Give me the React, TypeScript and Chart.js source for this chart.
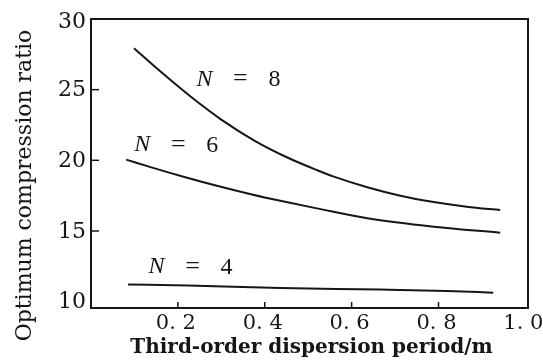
import React, { useEffect, useRef } from "react";
import { Chart, registerables } from "chart.js";

Chart.register(...registerables);

const xTickValues = [0.2, 0.4, 0.6, 0.8, 1.0];
const xTickLabels = ["0. 2", "0. 4", "0. 6", "0. 8", "1. 0"];
const yTickValues = [10, 15, 20, 25, 30];
const yTickLabels = ["10", "15", "20", "25", "30"];

const n8X = [0.099, 0.146, 0.192, 0.238, 0.299, 0.376, 0.452, 0.521, 0.559, 0.636, 0.712, 0.789, 0.865, 0.942];
const n8Y = [27.93, 26.65, 25.45, 24.3, 22.9, 21.4, 20.2, 19.3, 18.85, 18.1, 17.5, 17.05, 16.72, 16.48];

const n6X = [0.081, 0.139, 0.215, 0.292, 0.368, 0.444, 0.52, 0.636, 0.789, 0.942];
const n6Y = [20.05, 19.5, 18.82, 18.18, 17.6, 17.08, 16.6, 15.9, 15.3, 14.88];

const n4X = [0.085, 0.223, 0.437, 0.666, 0.819, 0.926];
const n4Y = [11.22, 11.15, 10.96, 10.86, 10.76, 10.63];

const curveLabels = ["8", "6", "4"];
const curveLabelX = [0.337, 0.194, 0.227];
const curveLabelY = [25.74, 21.08, 12.47];

const xTitle = "Third-order dispersion period/m";
const yTitle = "Optimum compression ratio";

const INK = "#161616";

const toPoints = (xs: number[], ys: number[]) => xs.map((v, i) => ({ x: v, y: ys[i] }));

const decorPlugin = {
  id: "decor",
  afterDraw(chart: any) {
    const { ctx, chartArea } = chart;
    const { left, right, top, bottom } = chartArea;
    const xs = chart.scales.x;
    const ys = chart.scales.y;
    ctx.save();
    ctx.strokeStyle = INK;
    ctx.fillStyle = INK;
    ctx.lineWidth = 2;
    ctx.strokeRect(left, top, right - left, bottom - top);

    // y ticks (inward) and labels
    ctx.lineWidth = 1.5;
    ctx.font = "22px 'DejaVu Serif'";
    ctx.textAlign = "right";
    ctx.textBaseline = "middle";
    yTickValues.forEach((v, i) => {
      const py = ys.getPixelForValue(v);
      if (i > 0 && i < yTickValues.length - 1) {
        ctx.beginPath();
        ctx.moveTo(left, py);
        ctx.lineTo(left + 8, py);
        ctx.stroke();
      }
      ctx.fillText(yTickLabels[i], left - 5, py + (i === yTickValues.length - 1 ? 3 : 1));
    });

    // x ticks (inward) and labels
    ctx.font = "21px 'DejaVu Serif'";
    ctx.textAlign = "center";
    ctx.textBaseline = "middle";
    xTickValues.forEach((v, i) => {
      const px = xs.getPixelForValue(v);
      if (i < xTickValues.length - 1) {
        ctx.beginPath();
        ctx.moveTo(px, bottom);
        ctx.lineTo(px, bottom - 6);
        ctx.stroke();
      }
      ctx.fillText(xTickLabels[i], px - 2, bottom + 16);
    });

    // axis titles
    ctx.font = "bold 20px 'DejaVu Serif'";
    ctx.textAlign = "center";
    ctx.fillText(xTitle, (left + right) / 2 + 2, bottom + 40);

    ctx.save();
    ctx.font = "22px 'DejaVu Serif'";
    ctx.translate(25, (top + bottom) / 2 + 22);
    ctx.rotate(-Math.PI / 2);
    ctx.fillText(yTitle, 0, 0);
    ctx.restore();

    // curve labels
    curveLabels.forEach((lab, i) => {
      const cx = xs.getPixelForValue(curveLabelX[i]);
      const cy = ys.getPixelForValue(curveLabelY[i]);
      ctx.textAlign = "center";
      ctx.textBaseline = "middle";
      ctx.font = "italic 24px 'Liberation Serif'";
      ctx.fillText("N", cx - 33, cy);
      ctx.font = "26px 'Liberation Serif'";
      ctx.fillText("=", cx + 3, cy);
      ctx.font = "24px 'Liberation Serif'";
      ctx.fillText(lab, cx + 37, cy + 1);
    });
    ctx.restore();
  },
};

export default function App() {
  const canvasRef = useRef<HTMLCanvasElement | null>(null);

  useEffect(() => {
    document.body.style.margin = "0";
    const canvas = canvasRef.current;
    if (!canvas) return;
    const lineStyle = {
      borderColor: INK,
      borderWidth: 2,
      pointRadius: 0,
      fill: false,
      cubicInterpolationMode: "monotone" as const,
    };
    const chart = new Chart(canvas, {
      type: "line",
      data: {
        datasets: [
          { label: "N = 8", data: toPoints(n8X, n8Y), ...lineStyle },
          { label: "N = 6", data: toPoints(n6X, n6Y), ...lineStyle },
          { label: "N = 4", data: toPoints(n4X, n4Y), ...lineStyle },
        ],
      },
      options: {
        responsive: false,
        animation: false,
        layout: { padding: { top: 19, right: 15, left: 0, bottom: 0 } },
        plugins: { legend: { display: false }, tooltip: { enabled: false } },
        scales: {
          x: {
            type: "linear",
            min: 0,
            max: 1.006,
            grid: { display: false },
            border: { display: false },
            ticks: { display: false },
            afterFit: (s: any) => {
              s.height = 53;
            },
          },
          y: {
            type: "linear",
            min: 9.55,
            max: 30,
            grid: { display: false },
            border: { display: false },
            ticks: { display: false },
            afterFit: (s: any) => {
              s.width = 91;
            },
          },
        },
      },
      plugins: [decorPlugin],
    });
    return () => chart.destroy();
  }, []);

  return (
    <div style={{ width: 543, height: 361, background: "#fff" }}>
      <canvas ref={canvasRef} width={543} height={361} />
    </div>
  );
}
